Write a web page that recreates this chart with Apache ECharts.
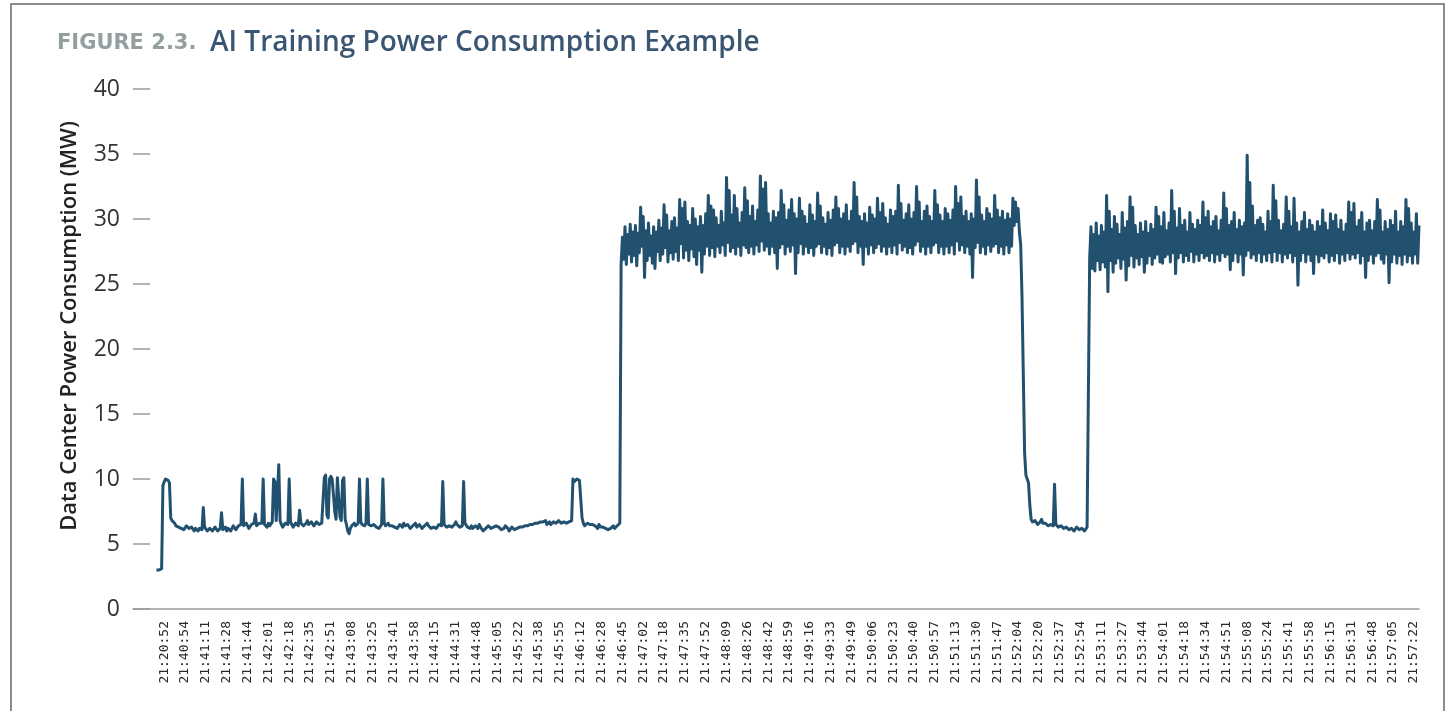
<!DOCTYPE html>
<html>
<head>
<meta charset="utf-8">
<title>AI Training Power Consumption Example</title>
<script src="https://cdn.jsdelivr.net/npm/echarts@6/dist/echarts.min.js"></script>
<style>
  html, body { margin: 0; padding: 0; background: #fff; }
  #main { width: 1455px; height: 711px; }
</style>
</head>
<body>
<div id="main"></div>
<script>
// tick labels along the time axis
var timeLabels = ['21:20:52', '21:40:54', '21:41:11', '21:41:28', '21:41:44', '21:42:01', '21:42:18', '21:42:35',
    '21:42:51', '21:43:08', '21:43:25', '21:43:41', '21:43:58', '21:44:15', '21:44:31', '21:44:48',
    '21:45:05', '21:45:22', '21:45:38', '21:45:55', '21:46:12', '21:46:28', '21:46:45', '21:47:02',
    '21:47:18', '21:47:35', '21:47:52', '21:48:09', '21:48:26', '21:48:42', '21:48:59', '21:49:16',
    '21:49:33', '21:49:49', '21:50:06', '21:50:23', '21:50:40', '21:50:57', '21:51:13', '21:51:30',
    '21:51:47', '21:52:04', '21:52:20', '21:52:37', '21:52:54', '21:53:11', '21:53:27', '21:53:44',
    '21:54:01', '21:54:18', '21:54:34', '21:54:51', '21:55:08', '21:55:24', '21:55:41', '21:55:58',
    '21:56:15', '21:56:31', '21:56:48', '21:57:05', '21:57:22'];

var yTicks = [0, 5, 10, 15, 20, 25, 30, 35, 40];

// power readings (MW)
var idleStart = [
    3.0, 3.0, 3.0, 3.0, 3.1, 9.5, 9.8, 10.0, 10.1, 9.9, 9.7, 7.0, 6.8, 6.7, 6.6, 6.4, 6.5, 6.3, 6.4, 6.2,
    6.3, 6.1, 6.2, 6.4, 6.4, 6.2, 6.1, 6.3, 6.3, 6.0, 6.2, 6.3, 6.0, 6.2, 6.3, 6.1, 7.8, 6.3, 6.2, 6.0,
    6.1, 6.2, 6.3, 6.0, 6.0, 6.3, 6.2, 6.0, 6.1, 6.2, 7.4, 6.1, 6.2, 6.3, 6.0, 6.2, 6.3, 6.0, 6.1, 6.4,
    6.3, 6.1, 6.2, 6.4, 6.4, 6.5, 10.0, 6.4, 6.3, 6.6, 6.5, 6.2, 6.2, 6.5, 6.4, 6.6, 7.3, 6.4, 6.3, 6.6,
    6.5, 6.6, 10.0, 6.5, 6.4, 6.3, 6.6, 6.4, 6.3, 6.7, 10.0, 9.8, 6.8, 6.9, 11.1, 6.8, 6.5, 6.3, 6.4, 6.6,
    6.6, 6.5, 10.0, 6.7, 6.5, 6.3, 6.4, 6.6, 6.6, 6.4, 7.6, 6.6, 6.5, 6.4, 6.3, 6.6, 6.8, 6.5, 6.4, 6.7,
    6.7, 6.4, 6.5, 6.7, 6.8, 6.5, 6.4, 6.6, 6.6, 10.1, 10.3, 7.2, 7.0, 10.0, 10.2, 10.0, 10.1, 7.5, 6.9, 10.1,
    10.2, 7.1, 6.8, 9.9, 10.1, 6.9, 6.5, 6.0, 5.8, 6.2, 6.4, 6.5, 6.6, 6.4, 6.3, 6.6, 10.0, 6.7, 6.5, 6.4,
    6.4, 6.6, 10.0, 6.5, 6.6, 6.4, 6.3, 6.5, 6.5, 6.3, 6.4, 6.2, 6.2, 6.5, 10.0, 6.6, 6.4, 6.3, 6.6, 6.4,
    6.3, 6.4, 6.5, 6.3, 6.4, 6.2, 6.2, 6.5, 6.4, 6.3, 6.6, 6.4, 6.3, 6.5, 6.5, 6.2, 6.2, 6.4, 6.4, 6.6,
    6.3, 6.2, 6.5, 6.4, 6.2, 6.3, 6.4, 6.5, 6.6, 6.4, 6.3, 6.2, 6.1, 6.3, 6.4, 6.2, 6.3, 6.5, 6.5, 6.4,
    9.8, 6.5, 6.4, 6.3, 6.2, 6.4, 6.5, 6.3, 6.3, 6.5, 6.7, 6.5, 6.4, 6.3, 6.2, 6.4, 9.8, 6.6, 6.5, 6.3,
    6.3, 6.2, 6.4, 6.2, 6.1, 6.4, 6.3, 6.2, 6.5, 6.3, 6.2, 6.0, 6.0, 6.2, 6.3, 6.4, 6.4, 6.2, 6.1, 6.3,
    6.3, 6.4, 6.5, 6.3, 6.2, 6.1, 6.0, 6.2, 6.4, 6.3, 6.2, 6.0, 6.1, 6.3, 6.3, 6.1, 6.0, 6.2, 6.2, 6.3,
    6.4, 6.3, 6.2, 6.4, 6.5, 6.4, 6.3, 6.5, 6.6, 6.5, 6.4, 6.6, 6.7, 6.6, 6.5, 6.7, 6.8, 6.7, 6.6, 6.8,
    6.5, 6.6, 6.7, 6.5, 6.6, 6.7, 6.8, 6.6, 6.5, 6.8, 6.7, 6.6, 6.6, 6.7, 6.8, 6.6, 6.6, 6.7, 6.7, 6.8,
    10.0, 9.8, 9.9, 10.0, 10.0, 9.9, 9.8, 7.0, 6.6, 6.4, 6.5, 6.6, 6.7, 6.5, 6.4, 6.5, 6.6, 6.4, 6.3, 6.2,
    6.5, 6.3, 6.2, 6.3, 6.4, 6.2, 6.3, 6.1, 6.1, 6.2, 6.3, 6.4, 6.2, 6.3, 6.4, 6.5, 6.6
];

var trainFirst = [
    26.5,
    28.6, 26.9, 29.4, 26.5, 28.8, 27.3, 29.6, 26.7, 29.0, 27.2,
    29.5, 26.4, 28.9, 27.4, 30.9, 27.9, 30.2, 25.5, 29.1, 26.8,
    29.7, 27.2, 28.7, 26.6, 29.4, 26.2, 29.0, 27.5, 29.9, 26.8,
    29.3, 27.3, 31.1, 27.8, 30.3, 26.7, 29.1, 27.4, 29.8, 26.9,
    30.1, 27.5, 29.3, 26.8, 31.5, 28.1, 30.8, 27.0, 31.3, 27.6,
    29.8, 26.8, 29.5, 27.7, 30.8, 27.1, 30.0, 26.5, 29.4, 27.6,
    30.2, 25.9, 29.5, 27.3, 30.4, 27.9, 31.8, 27.2, 31.0, 27.8,
    30.7, 27.1, 30.1, 27.9, 29.5, 27.4, 30.6, 28.0, 29.7, 27.2,
    33.2, 28.2, 32.2, 27.5, 30.3, 27.8, 31.8, 27.3, 30.8, 27.9,
    29.7, 27.2, 30.5, 28.0, 32.4, 27.8, 31.4, 27.4, 30.2, 27.9,
    31.0, 27.3, 29.8, 28.0, 30.7, 27.5, 33.3, 28.3, 32.3, 27.6,
    32.8, 27.9, 30.4, 27.3, 29.7, 27.9, 30.6, 27.4, 30.1, 26.2,
    30.5, 27.8, 32.2, 28.1, 31.1, 27.3, 29.9, 27.9, 30.7, 27.5,
    31.5, 28.0, 30.4, 25.8, 30.0, 27.4, 31.6, 28.1, 30.6, 27.3,
    30.2, 27.9, 29.6, 27.4, 31.1, 27.8, 30.3, 27.2, 29.8, 27.9,
    32.0, 28.1, 31.0, 27.4, 30.1, 27.9, 29.6, 27.3, 30.5, 27.8,
    29.9, 27.2, 30.7, 28.0, 31.7, 28.2, 30.8, 27.4, 30.0, 27.9,
    30.4, 27.3, 31.1, 27.9, 29.8, 27.5, 30.6, 28.1, 32.8, 28.3,
    31.7, 27.4, 30.2, 27.9, 29.8, 26.5, 30.4, 27.9, 29.7, 27.3,
    30.9, 28.0, 30.3, 27.4, 30.0, 27.8, 31.6, 28.1, 30.5, 27.5,
    31.2, 27.9, 30.1, 27.3, 29.6, 27.9, 30.7, 27.4, 30.2, 28.0,
    30.6, 27.3, 32.6, 28.2, 31.2, 27.6, 29.9, 27.9, 30.4, 27.4,
    31.1, 27.8, 30.0, 27.3, 30.5, 28.0, 32.5, 28.3, 31.3, 27.5,
    29.8, 27.9, 30.6, 27.3, 31.0, 27.9, 30.2, 27.4, 29.8, 28.0,
    32.2, 28.2, 31.1, 27.4, 30.3, 27.9, 29.8, 27.3, 30.8, 27.9,
    30.4, 27.4, 29.9, 28.0, 30.7, 27.3, 32.5, 28.3, 31.2, 27.6,
    31.7, 28.0, 30.2, 27.4, 30.6, 27.9, 29.8, 27.3, 30.4, 25.5,
    30.0, 27.8, 33.0, 28.2, 31.7, 27.4, 30.3, 27.9, 29.8, 27.3,
    30.8, 28.0, 30.4, 27.5, 30.0, 27.9, 31.8, 28.1, 30.7, 27.4,
    30.1, 27.9, 30.6, 27.3, 29.9, 28.0, 30.4, 27.4, 30.0, 27.9,
    31.6, 29.5, 31.3, 29.8, 30.8, 29.0, 28.0
];

var idleMid = [
    24.0, 18.0, 12.0, 10.3, 10.0, 9.7, 8.0, 6.9, 6.7, 6.6,
    6.8, 6.8, 6.5, 6.4, 6.7, 6.9, 6.6, 6.5, 6.6, 6.7,
    6.4, 6.3, 6.5, 6.5, 6.4, 9.6, 6.5, 6.4, 6.3, 6.2,
    6.4, 6.4, 6.2, 6.1, 6.3, 6.3, 6.1, 6.0, 6.2, 6.2,
    6.0, 6.1, 6.3, 6.3, 6.1, 6.0, 6.2, 6.2, 6.0, 6.1,
    6.3, 6.4
];

var trainSecond = [
    27.0,
    29.4, 26.2, 28.8, 26.0, 29.7, 26.8, 28.7, 26.1, 29.5, 26.7,
    29.0, 26.3, 31.8, 24.4, 30.6, 26.8, 29.2, 25.9, 30.2, 26.6,
    29.6, 27.0, 28.8, 26.2, 30.5, 26.9, 29.3, 25.3, 29.8, 26.4,
    31.7, 27.2, 30.9, 26.3, 29.5, 27.0, 28.8, 26.5, 29.7, 27.1,
    29.0, 25.9, 29.8, 26.6, 28.9, 27.2, 29.6, 26.5, 29.2, 27.0,
    30.9, 27.3, 30.2, 26.7, 29.4, 26.6, 30.5, 27.1, 29.1, 27.3,
    29.7, 26.7, 32.2, 27.4, 30.6, 25.8, 29.3, 27.0, 30.8, 27.4,
    29.5, 26.7, 29.9, 27.2, 29.0, 26.8, 30.5, 27.5, 29.6, 26.7,
    29.2, 27.3, 29.9, 26.8, 29.5, 27.4, 31.3, 27.0, 30.1, 27.2,
    30.6, 26.8, 29.4, 27.4, 29.8, 26.7, 30.2, 27.3, 29.1, 26.8,
    29.9, 27.4, 32.0, 27.1, 30.8, 27.3, 29.5, 26.1, 29.8, 26.8,
    30.5, 27.4, 29.2, 26.7, 29.9, 27.3, 29.4, 25.7, 29.7, 27.2,
    34.9, 27.6, 32.8, 27.0, 31.0, 27.3, 29.5, 26.8, 29.9, 27.4,
    30.1, 26.7, 29.6, 27.3, 29.0, 26.8, 30.6, 27.4, 29.8, 26.7,
    32.6, 27.5, 31.4, 26.8, 29.9, 27.4, 29.1, 26.7, 29.6, 27.3,
    31.7, 27.0, 30.6, 27.4, 29.4, 26.7, 31.6, 27.2, 29.7, 24.9,
    29.0, 26.8, 29.8, 27.4, 30.5, 26.7, 29.2, 27.3, 29.9, 26.8,
    29.5, 25.8, 29.0, 27.3, 29.8, 26.7, 29.4, 27.2, 30.7, 27.0,
    29.7, 27.4, 29.1, 26.7, 30.4, 27.2, 29.8, 26.8, 30.3, 27.4,
    29.2, 26.6, 29.9, 27.3, 29.0, 26.8, 29.6, 27.4, 31.3, 26.9,
    30.5, 27.3, 31.2, 27.0, 29.4, 27.4, 29.9, 26.6, 30.5, 27.2,
    29.0, 25.5, 29.7, 26.8, 29.9, 27.3, 29.1, 26.6, 29.8, 27.2,
    31.5, 27.4, 30.7, 26.9, 29.0, 26.6, 29.8, 27.3, 29.2, 25.1,
    29.9, 26.7, 29.5, 27.3, 30.6, 26.6, 29.0, 27.2, 29.8, 26.5,
    29.4, 27.3, 31.5, 26.7, 30.8, 27.2, 29.7, 26.6, 29.0, 27.3,
    30.4, 26.6, 29.5
];

var leadGap = 18;     // empty slots before the first reading
var labelStart = 24;  // slot that carries the first time label
var labelEvery = 16;  // readings between two time labels

var power = idleStart.concat(trainFirst, idleMid, trainSecond);
var slots = [];
var lineData = [];
for (var i = 0; i < leadGap + power.length; i++) {
    var k = i - labelStart;
    var hasLabel = k >= 0 && k % labelEvery === 0 && k / labelEvery < timeLabels.length;
    slots.push(hasLabel ? timeLabels[k / labelEvery] : '');
    lineData.push(i < leadGap ? null : power[i - leadGap]);
}

var myChart = echarts.init(document.getElementById('main'));

var option = {
    animation: false,
    graphic: [
        {
            type: 'rect',
            shape: { x: 11, y: 4, width: 1433, height: 730 },
            style: { fill: 'none', stroke: '#8c8c8c', lineWidth: 2 }
        },
        // figure number and title
        {
            type: 'text',
            x: 57,
            y: 44,
            style: {
                text: 'FIGURE 2.3.',
                fontFamily: 'DejaVu Sans',
                fontSize: 21,
                fontWeight: 'bold',
                fill: '#93a09f',
                verticalAlign: 'middle'
            }
        },
        {
            type: 'text',
            x: 210,
            y: 43,
            style: {
                text: 'AI Training Power Consumption Example',
                fontFamily: 'Open Sans',
                fontSize: 28,
                fontWeight: 600,
                fill: '#3b5672',
                verticalAlign: 'middle'
            }
        },
        {
            type: 'text',
            x: 70,
            y: 326,
            rotation: Math.PI / 2,
            style: {
                text: 'Data Center Power Consumption (MW)',
                fontFamily: 'Open Sans',
                fontSize: 22,
                fontWeight: 600,
                fill: '#222',
                align: 'center',
                verticalAlign: 'middle'
            }
        }
    ],
    grid: { left: 133, right: 36, top: 89, bottom: 102 },
    xAxis: {
        type: 'category',
        data: slots,
        boundaryGap: false,
        axisLine: { lineStyle: { color: '#9a9a9a', width: 1.5 } },
        axisTick: { show: false },
        axisLabel: {
            interval: 0,
            rotate: 90,
            margin: 12,
            fontSize: 13,
            fontFamily: 'DejaVu Sans Mono',
            color: '#2a2a2a'
        }
    },
    yAxis: {
        type: 'value',
        min: yTicks[0],
        max: yTicks[yTicks.length - 1],
        interval: yTicks[1] - yTicks[0],
        axisLine: { show: false },
        axisTick: { show: true, inside: true, length: 17, lineStyle: { color: '#9a9a9a', width: 1.5 } },
        splitLine: { show: false },
        axisLabel: { margin: 13, fontSize: 23, fontFamily: 'Open Sans', color: '#333' }
    },
    series: [{
        name: 'Power',
        type: 'line',
        data: lineData,
        showSymbol: false,
        connectNulls: false,
        lineStyle: { color: '#22506f', width: 3, join: 'round' }
    }]
};

myChart.setOption(option);
</script>
</body>
</html>
